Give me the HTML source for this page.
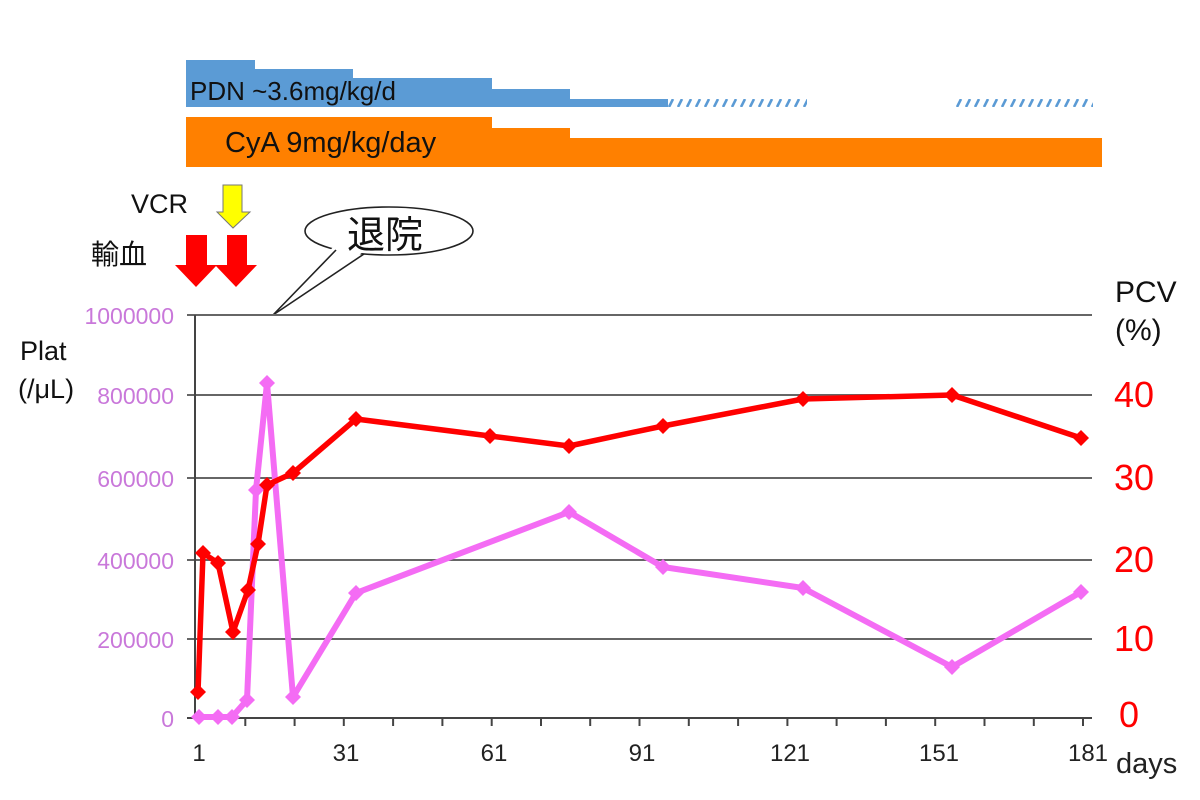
<!DOCTYPE html>
<html><head><meta charset="utf-8"><style>
html,body{margin:0;padding:0;background:#fff;}
svg{display:block;}
text{font-family:"Liberation Sans","Noto Sans CJK JP",sans-serif;}
</style></head><body>
<svg width="1200" height="800" viewBox="0 0 1200 800" xmlns="http://www.w3.org/2000/svg">
<defs>
<pattern id="hatch" patternUnits="userSpaceOnUse" x="668" y="99" width="9" height="8">
<line x1="1" y1="8" x2="5" y2="0" stroke="#5B9BD5" stroke-width="2.6"/>
</pattern>
</defs>
<rect width="1200" height="800" fill="#fff"/>
<!-- PDN bar -->
<polygon fill="#5B9BD5" points="186,60 255,60 255,69 353,69 353,78 492,78 492,89 570,89 570,99 668,99 668,107 186,107"/>
<rect x="668" y="99" width="139" height="8" fill="url(#hatch)"/>
<rect x="955" y="99" width="138" height="8" fill="url(#hatch)"/>
<text x="190" y="100" font-size="26" fill="#111">PDN ~3.6mg/kg/d</text>
<!-- CyA bar -->
<polygon fill="#FF8000" points="186,117 492,117 492,128 570,128 570,138 1102,138 1102,167 186,167"/>
<text x="225" y="152" font-size="29" fill="#111">CyA 9mg/kg/day</text>
<!-- labels / arrows -->
<text x="131" y="213" font-size="27" fill="#111">VCR</text>
<polygon points="223,185 242,185 242,212 250,212 233,228 217,212 223,212" fill="#FFFF00" stroke="#777" stroke-width="1"/>
<text x="91" y="264" font-size="28" fill="#111">輸血</text>
<polygon points="186,235 207,235 207,265 217,265 196,287 175,265 186,265" fill="#FF0000"/>
<polygon points="227,235 247,235 247,265 257,265 236,287 215,265 227,265" fill="#FF0000"/>
<!-- speech bubble -->
<ellipse cx="389" cy="231" rx="84" ry="24" fill="#fff" stroke="#222" stroke-width="1.6"/>
<polygon points="334,246 273,315 366,250" fill="#fff"/>
<polyline points="336,250 273,315 364,254" fill="none" stroke="#222" stroke-width="1.6"/>
<text x="347" y="248" font-size="38" fill="#111">退院</text>
<!-- gridlines -->
<g stroke="#666" stroke-width="2">
<line x1="187" y1="315" x2="1092" y2="315"/>
<line x1="187" y1="395" x2="1092" y2="395"/>
<line x1="187" y1="478" x2="1092" y2="478"/>
<line x1="187" y1="560" x2="1092" y2="560"/>
<line x1="187" y1="639" x2="1092" y2="639"/>
</g>
<line x1="187" y1="718" x2="1092" y2="718" stroke="#444" stroke-width="2"/>
<line x1="195" y1="315" x2="195" y2="718" stroke="#444" stroke-width="2"/>
<g stroke="#444" stroke-width="2">
<line x1="245.3" y1="718" x2="245.3" y2="726"/>
<line x1="294.6" y1="718" x2="294.6" y2="726"/>
<line x1="343.8" y1="718" x2="343.8" y2="726"/>
<line x1="393.1" y1="718" x2="393.1" y2="726"/>
<line x1="442.4" y1="718" x2="442.4" y2="726"/>
<line x1="491.7" y1="718" x2="491.7" y2="726"/>
<line x1="541" y1="718" x2="541" y2="726"/>
<line x1="590.2" y1="718" x2="590.2" y2="726"/>
<line x1="639.5" y1="718" x2="639.5" y2="726"/>
<line x1="688.8" y1="718" x2="688.8" y2="726"/>
<line x1="738.1" y1="718" x2="738.1" y2="726"/>
<line x1="787.4" y1="718" x2="787.4" y2="726"/>
<line x1="836.6" y1="718" x2="836.6" y2="726"/>
<line x1="885.9" y1="718" x2="885.9" y2="726"/>
<line x1="935.2" y1="718" x2="935.2" y2="726"/>
<line x1="984.5" y1="718" x2="984.5" y2="726"/>
<line x1="1033.8" y1="718" x2="1033.8" y2="726"/>
<line x1="1083" y1="718" x2="1083" y2="726"/>
</g>
<!-- left axis labels -->
<g font-size="23" fill="#C978DA" text-anchor="end">
<text x="174" y="324">1000000</text>
<text x="174" y="404">800000</text>
<text x="174" y="487">600000</text>
<text x="174" y="569">400000</text>
<text x="174" y="648">200000</text>
<text x="174" y="727">0</text>
</g>
<text x="20" y="360" font-size="27" fill="#111">Plat</text>
<text x="18" y="398" font-size="27" fill="#111">(/μL)</text>
<!-- right axis labels -->
<g font-size="36" fill="#FF0000">
<text x="1114" y="407">40</text>
<text x="1114" y="490">30</text>
<text x="1114" y="572">20</text>
<text x="1114" y="651">10</text>
<text x="1119" y="727">0</text>
</g>
<text x="1115" y="302" font-size="30" fill="#111">PCV</text>
<text x="1115" y="340" font-size="30" fill="#111">(%)</text>
<!-- x labels -->
<g font-size="24" fill="#222" text-anchor="middle">
<text x="199" y="761">1</text>
<text x="346" y="761">31</text>
<text x="494" y="761">61</text>
<text x="642" y="761">91</text>
<text x="790" y="761">121</text>
<text x="939" y="761">151</text>
<text x="1088" y="761">181</text>
</g>
<text x="1116" y="773" font-size="29" fill="#222">days</text>
<!-- Plat series (pink) -->
<polyline fill="none" stroke="#F46CF4" stroke-width="6" stroke-linejoin="round" points="199,717 218,717 232,717 247,700 256,490 267,383 293,697 356,593 569,512 663,567 803,588 952,667 1081,592"/>
<g fill="#F46CF4">
<polygon points="199,709 207,717 199,725 191,717"/>
<polygon points="218,709 226,717 218,725 210,717"/>
<polygon points="232,709 240,717 232,725 224,717"/>
<polygon points="247,692 255,700 247,708 239,700"/>
<polygon points="256,482 264,490 256,498 248,490"/>
<polygon points="267,375 275,383 267,391 259,383"/>
<polygon points="293,689 301,697 293,705 285,697"/>
<polygon points="356,585 364,593 356,601 348,593"/>
<polygon points="569,504 577,512 569,520 561,512"/>
<polygon points="663,559 671,567 663,575 655,567"/>
<polygon points="803,580 811,588 803,596 795,588"/>
<polygon points="952,659 960,667 952,675 944,667"/>
<polygon points="1081,584 1089,592 1081,600 1073,592"/>
</g>
<!-- PCV series (red) -->
<polyline fill="none" stroke="#FF0000" stroke-width="5.5" stroke-linejoin="round" points="198,692 203,553 218,563 233,632 248,590 258,544 267,485 293,473 356,419 490,436 569,446 663,426 803,399 952,395 1081,438"/>
<g fill="#FF0000">
<polygon points="198,684 206,692 198,700 190,692"/>
<polygon points="203,545 211,553 203,561 195,553"/>
<polygon points="218,555 226,563 218,571 210,563"/>
<polygon points="233,624 241,632 233,640 225,632"/>
<polygon points="248,582 256,590 248,598 240,590"/>
<polygon points="258,536 266,544 258,552 250,544"/>
<polygon points="267,477 275,485 267,493 259,485"/>
<polygon points="293,465 301,473 293,481 285,473"/>
<polygon points="356,411 364,419 356,427 348,419"/>
<polygon points="490,428 498,436 490,444 482,436"/>
<polygon points="569,438 577,446 569,454 561,446"/>
<polygon points="663,418 671,426 663,434 655,426"/>
<polygon points="803,391 811,399 803,407 795,399"/>
<polygon points="952,387 960,395 952,403 944,395"/>
<polygon points="1081,430 1089,438 1081,446 1073,438"/>
</g>
</svg>
</body></html>
